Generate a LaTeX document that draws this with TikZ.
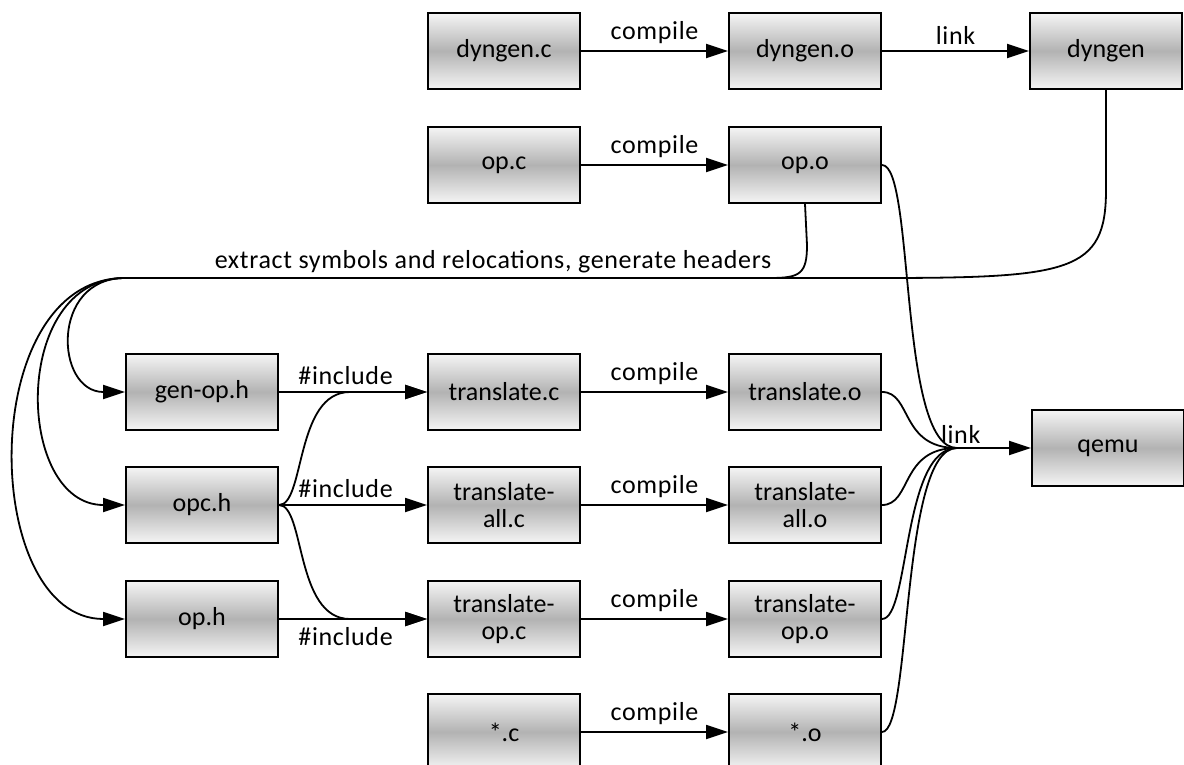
\documentclass[tikz,border=0pt]{standalone}
\usepackage{fontspec}
\setmainfont{Carlito}
\usetikzlibrary{arrows.meta}
\tikzset{
  box/.style={draw=black, line width=2pt, minimum width=152pt, minimum height=76pt, inner sep=0pt,
    top color=gray!8, bottom color=gray!8, middle color=gray!60, align=center,
    font=\fontsize{26}{27}\selectfont},
  conn/.style={line width=1.8pt},
  arr/.style={line width=1.8pt, -{Triangle[length=22pt,width=14pt]}},
  lbl/.style={font=\fontsize{26}{27}\selectfont\addfontfeatures{LetterSpace=2.5}, inner sep=0pt},
}
\begin{document}
\begin{tikzpicture}[x=1pt,y=-1pt]
\useasboundingbox (0,0) rectangle (1184,765);
% nodes
\node[box] (dync) at (504,51) {dyngen.c};
\node[box] (dyno) at (805,51) {dyngen.o};
\node[box] (dyn) at (1106,51) {dyngen};
\node[box] (opc) at (504,165) {op.c};
\node[box] (opo) at (805,165) {op.o};
\node[box] (genoph) at (202,392) {gen-op.h};
\node[box] (opch) at (202,505) {opc.h};
\node[box] (oph) at (202,619) {op.h};
\node[box] (trc) at (504,392) {translate.c};
\node[box] (trac) at (504,505) {translate-\\all.c};
\node[box] (troc) at (504,619) {translate-\\op.c};
\node[box] (sc) at (504,732) {*.c};
\node[box] (tro) at (805,392) {translate.o};
\node[box] (trao) at (805,505) {translate-\\all.o};
\node[box] (troo) at (805,619) {translate-\\op.o};
\node[box] (so) at (805,732) {*.o};
\node[box] (qemu) at (1108,448) {qemu};
\coordinate (J) at (125,278);
\coordinate (M) at (957,448);
% compile / link top
\draw[arr] (dync) -- node[lbl, above=6pt] {compile} (dyno);
\draw[arr] (dyno) -- node[lbl, above=6pt] {link} (dyn);
\draw[arr] (opc) -- node[lbl, above=6pt] {compile} (opo);
\draw[arr] (trc) -- node[lbl, above=6pt] {compile} (tro);
\draw[arr] (trac) -- node[lbl, above=6pt] {compile} (trao);
\draw[arr] (troc) -- node[lbl, above=6pt] {compile} (troo);
\draw[arr] (sc) -- node[lbl, above=6pt] {compile} (so);
% extract symbols
\draw[conn] (dyn.south) -- (1106,190) .. controls (1106,272) and (1070,278) .. (880,278) -- (J);
\draw[conn] (opo.south) -- (807,245) .. controls (807,274) and (800,278) .. (770,278);
\node[lbl] (ext) at (493,262) {extract symbols and relocations, generate headers};
\draw[arr] (J) .. controls (50,278) and (55,392) .. (genoph.west);
\draw[arr] (J) .. controls (10,278) and (15,505) .. (opch.west);
\draw[arr] (J) .. controls (-25,278) and (-20,619) .. (oph.west);
% includes
\draw[arr] (genoph) -- node[lbl, above=6pt, pos=0.45] {\#include} (trc);
\draw[arr] (opch) -- node[lbl, above=6pt, pos=0.45] {\#include} (trac);
\draw[arr] (oph) -- node[lbl, below=8pt, pos=0.45] {\#include} (troc);
\draw[arr] (opch.east) .. controls (305,505) and (295,392) .. (350,392) -- (trc.west);
\draw[arr] (opch.east) .. controls (305,505) and (295,619) .. (350,619) -- (troc.west);
% link to qemu
\draw[conn] (opo.east) .. controls (915,165) and (898,448) .. (M);
\draw[conn] (tro.east) .. controls (912,392) and (900,448) .. (M);
\draw[conn] (trao.east) .. controls (912,505) and (900,448) .. (M);
\draw[conn] (troo.east) .. controls (910,619) and (902,448) .. (M);
\draw[conn] (so.east) .. controls (912,732) and (900,448) .. (M);
\draw[arr] (M) -- node[lbl, above=4pt, pos=0.05] {link} (qemu.west);
\end{tikzpicture}
\end{document}
